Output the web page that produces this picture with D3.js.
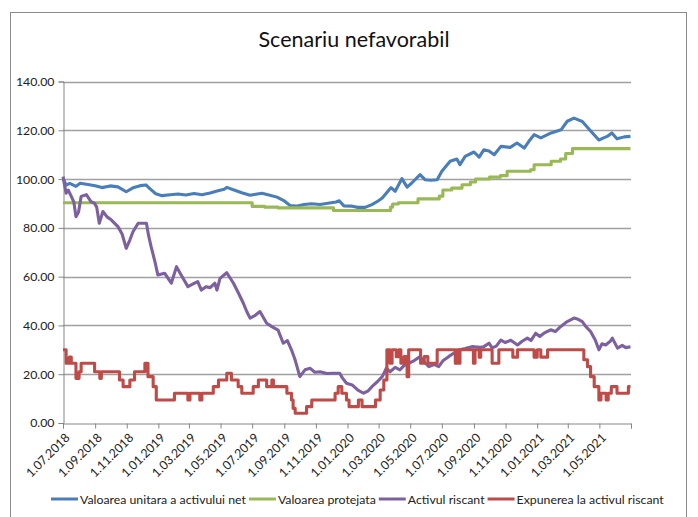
<!DOCTYPE html>
<html>
<head>
<meta charset="utf-8">
<script src="https://cdn.jsdelivr.net/npm/d3@7"></script>
<style>
  body { margin: 0; background: #fff; }
  svg { font-family: Lato, "Liberation Sans", sans-serif; }
</style>
</head>
<body>
<svg id="chart" width="698" height="517"></svg>
<script>

// series names + colours (legend order)
const seriesNames = ["Valoarea unitara a activului net", "Valoarea protejata", "Activul riscant", "Expunerea la activul riscant"];
const seriesColors = ["#4a7ebb", "#98b954", "#7d60a0", "#be4b48"];

const yTicks = [0, 20, 40, 60, 80, 100, 120, 140];

// valoarea unitara a activului net
const navData = [
  ["2018-07-01", 100.2], ["2018-07-03", 99.5], ["2018-07-07", 97.5], ["2018-07-14", 98.2], ["2018-07-26", 97.0],
  ["2018-08-03", 98.3], ["2018-08-18", 97.8], ["2018-09-01", 97.3], ["2018-09-14", 96.5], ["2018-09-30", 97.2],
  ["2018-10-15", 96.8], ["2018-10-31", 94.8], ["2018-11-13", 96.4], ["2018-11-27", 97.3], ["2018-12-08", 97.6],
  ["2018-12-16", 96.0], ["2018-12-27", 94.0], ["2019-01-08", 93.2], ["2019-01-24", 93.6], ["2019-02-08", 93.9],
  ["2019-02-23", 93.5], ["2019-03-11", 94.1], ["2019-03-26", 93.6], ["2019-04-11", 94.3], ["2019-04-26", 95.2],
  ["2019-05-08", 95.8], ["2019-05-13", 96.6], ["2019-05-27", 95.5], ["2019-06-11", 94.4], ["2019-06-27", 93.4],
  ["2019-07-08", 93.8], ["2019-07-20", 94.2], ["2019-08-04", 93.4], ["2019-08-18", 92.6], ["2019-08-31", 91.2],
  ["2019-09-12", 89.2], ["2019-09-24", 88.9], ["2019-10-09", 89.6], ["2019-10-24", 89.9], ["2019-11-09", 89.6],
  ["2019-11-24", 90.1], ["2019-12-10", 90.6], ["2019-12-16", 91.1], ["2019-12-25", 89.0], ["2020-01-10", 88.9],
  ["2020-01-21", 88.4], ["2020-02-04", 88.4], ["2020-02-17", 89.5], ["2020-02-29", 91.0], ["2020-03-08", 92.2],
  ["2020-03-19", 95.0], ["2020-03-25", 96.5], ["2020-04-02", 95.0], ["2020-04-15", 100.2], ["2020-04-25", 96.7],
  ["2020-05-04", 98.4], ["2020-05-20", 101.8], ["2020-05-30", 99.7], ["2020-06-10", 99.5], ["2020-06-22", 99.7],
  ["2020-07-01", 103.2], ["2020-07-17", 107.3], ["2020-07-30", 108.2], ["2020-08-05", 105.9], ["2020-08-15", 109.3],
  ["2020-09-01", 111.1], ["2020-09-11", 109.0], ["2020-09-20", 112.0], ["2020-09-30", 111.5], ["2020-10-10", 110.0],
  ["2020-10-23", 113.4], ["2020-11-10", 113.0], ["2020-11-23", 114.8], ["2020-12-07", 112.7], ["2020-12-16", 115.5],
  ["2020-12-26", 118.2], ["2021-01-08", 116.9], ["2021-01-28", 118.9], ["2021-02-16", 120.2], ["2021-02-28", 123.7],
  ["2021-03-13", 125.0], ["2021-03-29", 123.6], ["2021-04-15", 119.5], ["2021-04-30", 116.0], ["2021-05-08", 116.8],
  ["2021-05-16", 117.5], ["2021-05-25", 118.9], ["2021-06-04", 116.5], ["2021-06-18", 117.3], ["2021-06-30", 117.5]
];

// valoarea protejata (trepte)
const protectedData = [
  ["2018-07-01", 90.3], ["2019-07-01", 88.8], ["2019-07-25", 88.5], ["2019-08-20", 88.2], ["2019-12-05", 87.1],
  ["2020-03-24", 88.5], ["2020-03-28", 89.8], ["2020-04-08", 90.3], ["2020-05-16", 91.9], ["2020-06-26", 93.0],
  ["2020-07-03", 95.5], ["2020-07-20", 96.3], ["2020-08-09", 97.7], ["2020-08-25", 98.8], ["2020-09-04", 100.0],
  ["2020-10-01", 100.8], ["2020-10-22", 101.4], ["2020-11-04", 103.2], ["2020-12-19", 103.8], ["2020-12-26", 105.9],
  ["2021-01-28", 107.3], ["2021-02-15", 108.2], ["2021-02-25", 110.5], ["2021-03-10", 112.5], ["2021-06-30", 112.5]
];

// activul riscant
const riskyData = [
  ["2018-07-01", 101.0], ["2018-07-07", 94.2], ["2018-07-11", 95.5], ["2018-07-17", 92.9], ["2018-07-22", 90.5],
  ["2018-07-26", 84.6], ["2018-07-31", 86.5], ["2018-08-05", 92.9], ["2018-08-15", 93.6], ["2018-08-24", 90.8],
  ["2018-08-31", 90.0], ["2018-09-04", 88.5], ["2018-09-09", 81.9], ["2018-09-16", 86.7], ["2018-09-24", 84.5],
  ["2018-10-02", 83.3], ["2018-10-15", 80.5], ["2018-10-23", 77.5], ["2018-10-31", 71.6], ["2018-11-07", 75.0],
  ["2018-11-13", 78.4], ["2018-11-23", 81.9], ["2018-12-09", 81.9], ["2018-12-13", 77.0], ["2018-12-18", 72.3],
  ["2018-12-25", 66.5], ["2018-12-31", 60.7], ["2019-01-13", 61.4], ["2019-01-26", 57.3], ["2019-02-05", 64.1],
  ["2019-02-14", 60.7], ["2019-02-27", 55.9], ["2019-03-09", 57.0], ["2019-03-18", 58.0], ["2019-03-25", 54.5],
  ["2019-04-03", 55.9], ["2019-04-11", 55.5], ["2019-04-20", 57.3], ["2019-04-24", 54.5], ["2019-04-30", 59.3],
  ["2019-05-13", 61.6], ["2019-05-26", 57.3], ["2019-06-04", 53.5], ["2019-06-14", 49.1], ["2019-06-21", 45.5],
  ["2019-06-27", 43.0], ["2019-07-06", 44.0], ["2019-07-16", 45.7], ["2019-07-29", 40.9], ["2019-08-08", 39.5],
  ["2019-08-20", 38.1], ["2019-08-30", 32.7], ["2019-09-07", 33.8], ["2019-09-15", 29.9], ["2019-09-22", 25.8],
  ["2019-10-01", 19.0], ["2019-10-11", 21.8], ["2019-10-21", 22.4], ["2019-10-30", 20.8], ["2019-11-09", 21.0],
  ["2019-11-22", 20.3], ["2019-12-04", 20.4], ["2019-12-17", 20.4], ["2019-12-22", 18.5], ["2019-12-30", 16.3],
  ["2020-01-10", 15.6], ["2020-01-21", 13.5], ["2020-02-01", 12.2], ["2020-02-10", 13.2], ["2020-02-17", 14.9],
  ["2020-02-27", 16.8], ["2020-03-08", 19.0], ["2020-03-16", 22.5], ["2020-03-23", 21.0], ["2020-04-02", 22.8],
  ["2020-04-11", 21.8], ["2020-04-19", 23.5], ["2020-04-28", 24.5], ["2020-05-08", 25.5], ["2020-05-20", 27.2],
  ["2020-05-28", 25.0], ["2020-06-06", 23.1], ["2020-06-16", 24.0], ["2020-06-25", 23.1], ["2020-07-03", 25.5],
  ["2020-07-14", 27.2], ["2020-07-23", 28.5], ["2020-08-03", 29.9], ["2020-08-15", 30.5], ["2020-08-28", 31.3],
  ["2020-09-13", 31.0], ["2020-09-20", 31.3], ["2020-09-30", 32.7], ["2020-10-06", 30.8], ["2020-10-14", 31.5],
  ["2020-10-23", 34.0], ["2020-10-31", 33.0], ["2020-11-11", 33.9], ["2020-11-24", 32.0], ["2020-12-03", 33.5],
  ["2020-12-13", 34.8], ["2020-12-20", 33.8], ["2020-12-29", 36.8], ["2021-01-06", 35.5], ["2021-01-14", 36.8],
  ["2021-01-27", 38.2], ["2021-02-05", 37.5], ["2021-02-15", 39.5], ["2021-02-28", 41.6], ["2021-03-13", 43.0],
  ["2021-03-21", 42.5], ["2021-03-29", 41.6], ["2021-04-05", 39.5], ["2021-04-14", 37.5], ["2021-04-23", 34.0],
  ["2021-04-30", 30.0], ["2021-05-06", 32.5], ["2021-05-13", 32.0], ["2021-05-22", 33.5], ["2021-05-26", 34.8],
  ["2021-06-05", 30.7], ["2021-06-14", 31.8], ["2021-06-21", 30.9], ["2021-06-30", 31.3]
];

// expunerea la activul riscant (trepte)
const exposureData = [
  ["2018-07-01", 30.0], ["2018-07-07", 24.5], ["2018-07-13", 27.0], ["2018-07-17", 24.5], ["2018-07-26", 18.3],
  ["2018-08-01", 21.0], ["2018-08-05", 24.5], ["2018-08-31", 21.0], ["2018-09-10", 18.3], ["2018-09-13", 21.0],
  ["2018-10-18", 17.6], ["2018-10-25", 14.9], ["2018-11-07", 17.6], ["2018-11-16", 21.0], ["2018-12-06", 24.5],
  ["2018-12-12", 19.0], ["2018-12-22", 14.9], ["2018-12-28", 9.4], ["2019-02-01", 12.2], ["2019-02-27", 9.4],
  ["2019-03-03", 12.2], ["2019-03-22", 9.4], ["2019-03-26", 12.2], ["2019-04-17", 14.9], ["2019-04-27", 17.6],
  ["2019-05-13", 20.4], ["2019-05-22", 17.6], ["2019-06-04", 14.9], ["2019-06-11", 12.2], ["2019-07-03", 14.9],
  ["2019-07-13", 17.6], ["2019-07-29", 14.9], ["2019-08-08", 17.6], ["2019-08-11", 14.9], ["2019-09-06", 12.2],
  ["2019-09-15", 9.4], ["2019-09-18", 6.0], ["2019-09-22", 4.0], ["2019-10-14", 6.7], ["2019-10-24", 9.4],
  ["2019-12-08", 12.2], ["2019-12-14", 14.9], ["2019-12-21", 12.2], ["2019-12-30", 9.4], ["2020-01-04", 6.7],
  ["2020-01-22", 9.4], ["2020-01-29", 6.7], ["2020-02-24", 9.4], ["2020-03-04", 13.5], ["2020-03-11", 17.6],
  ["2020-03-17", 30.0], ["2020-03-23", 24.5], ["2020-03-27", 30.0], ["2020-04-04", 27.2], ["2020-04-09", 30.0],
  ["2020-04-13", 24.5], ["2020-04-19", 27.2], ["2020-04-25", 19.0], ["2020-04-28", 30.0], ["2020-05-21", 24.5],
  ["2020-05-28", 27.2], ["2020-06-04", 24.5], ["2020-06-22", 30.0], ["2020-07-27", 24.5], ["2020-07-30", 30.0],
  ["2020-08-03", 24.5], ["2020-08-05", 30.0], ["2020-08-31", 24.5], ["2020-09-03", 30.0], ["2020-09-11", 27.0],
  ["2020-09-14", 30.0], ["2020-10-06", 24.5], ["2020-10-19", 30.0], ["2020-11-15", 27.0], ["2020-11-24", 30.0],
  ["2020-12-26", 27.0], ["2021-01-01", 30.0], ["2021-01-08", 27.0], ["2021-01-21", 30.0], ["2021-04-01", 25.9],
  ["2021-04-08", 23.1], ["2021-04-14", 19.0], ["2021-04-21", 14.9], ["2021-04-30", 9.4], ["2021-05-04", 12.2],
  ["2021-05-14", 9.4], ["2021-05-18", 12.2], ["2021-05-24", 14.9], ["2021-06-04", 12.2], ["2021-06-26", 14.9],
  ["2021-06-30", 14.9]
];

const parse = d3.timeParse("%Y-%m-%d");
const toPoints = arr => arr.map(d => ({ date: parse(d[0]), value: d[1] }));

const series = [
  { name: seriesNames[0], color: seriesColors[0], points: toPoints(navData), curve: d3.curveLinear },
  { name: seriesNames[1], color: seriesColors[1], points: toPoints(protectedData), curve: d3.curveStepAfter },
  { name: seriesNames[2], color: seriesColors[2], points: toPoints(riskyData), curve: d3.curveLinear },
  { name: seriesNames[3], color: seriesColors[3], points: toPoints(exposureData), curve: d3.curveStepAfter }
];

const svg = d3.select("#chart");
const labelSize = "12.3px";

// chart border
svg.append("rect")
  .attr("x", 10.5).attr("y", 12.5)
  .attr("width", 676).attr("height", 520)
  .attr("fill", "none")
  .attr("stroke", "#8a8a8a");

svg.append("text")
  .attr("x", 354).attr("y", 47)
  .attr("text-anchor", "middle")
  .style("font-size", "21.5px")
  .style("fill", "#111")
  .text("Scenariu nefavorabil");

const x = d3.scaleTime()
  .domain([parse("2018-07-01"), parse("2021-07-01")])
  .range([63, 631]);

const y = d3.scaleLinear()
  .domain([0, 140])
  .range([423, 81.5]);

// gridlines
svg.append("g")
  .selectAll("line").data(yTicks.filter(t => t > 0))
  .join("line")
    .attr("x1", 63).attr("x2", 631)
    .attr("y1", d => Math.round(y(d)) + 0.5)
    .attr("y2", d => Math.round(y(d)) + 0.5)
    .attr("stroke", "#a0a0a0")
    .attr("stroke-width", 1.6);

// y axis
const yAxis = svg.append("g")
  .attr("transform", "translate(63.5,0)")
  .call(d3.axisLeft(y).tickValues(yTicks).tickFormat(d3.format(".2f")).tickSize(5).tickPadding(4));
yAxis.select(".domain").attr("stroke", "#868686");
yAxis.selectAll(".tick line").attr("stroke", "#868686");
yAxis.selectAll("text").style("font-size", labelSize).style("fill", "#222").style("font-family", "Lato");

// x axis
const xTicks = d3.timeMonth.range(parse("2018-07-01"), parse("2021-07-02"), 2);
const fmt = d3.timeFormat("%-d.%m.%Y");
const xAxis = svg.append("g")
  .attr("transform", "translate(0,423.5)")
  .call(d3.axisBottom(x).tickValues(xTicks).tickSizeOuter(0).tickSize(5)
    .tickFormat(d => d.getFullYear() === 2021 && d.getMonth() === 6 ? "" : fmt(d)));
xAxis.select(".domain").attr("stroke", "#868686");
xAxis.selectAll(".tick line").attr("stroke", "#868686");
xAxis.selectAll("text")
  .style("font-size", labelSize).style("fill", "#222").style("font-family", "Lato")
  .attr("text-anchor", "end")
  .attr("dy", "0.35em")
  .attr("transform", "translate(4,12) rotate(-45)")
  .attr("y", 0).attr("x", 0);

// lines
series.forEach(s => {
  svg.append("path")
    .datum(s.points)
    .attr("fill", "none")
    .attr("stroke", s.color)
    .attr("stroke-width", 3.1)
    .attr("stroke-linejoin", "round")
    .attr("d", d3.line().curve(s.curve).x(d => x(d.date)).y(d => y(d.value)));
});

// legend
const legend = svg.append("g").attr("transform", "translate(51,499)");
let lx = 0;
series.forEach(s => {
  legend.append("line")
    .attr("x1", lx).attr("x2", lx + 27)
    .attr("y1", 0).attr("y2", 0)
    .attr("stroke", s.color).attr("stroke-width", 3);
  const t = legend.append("text")
    .attr("x", lx + 29).attr("y", 4.5)
    .style("font-size", labelSize).style("fill", "#222")
    .text(s.name);
  lx += 29 + t.node().getComputedTextLength() + 3;
});

</script>
</body>
</html>
